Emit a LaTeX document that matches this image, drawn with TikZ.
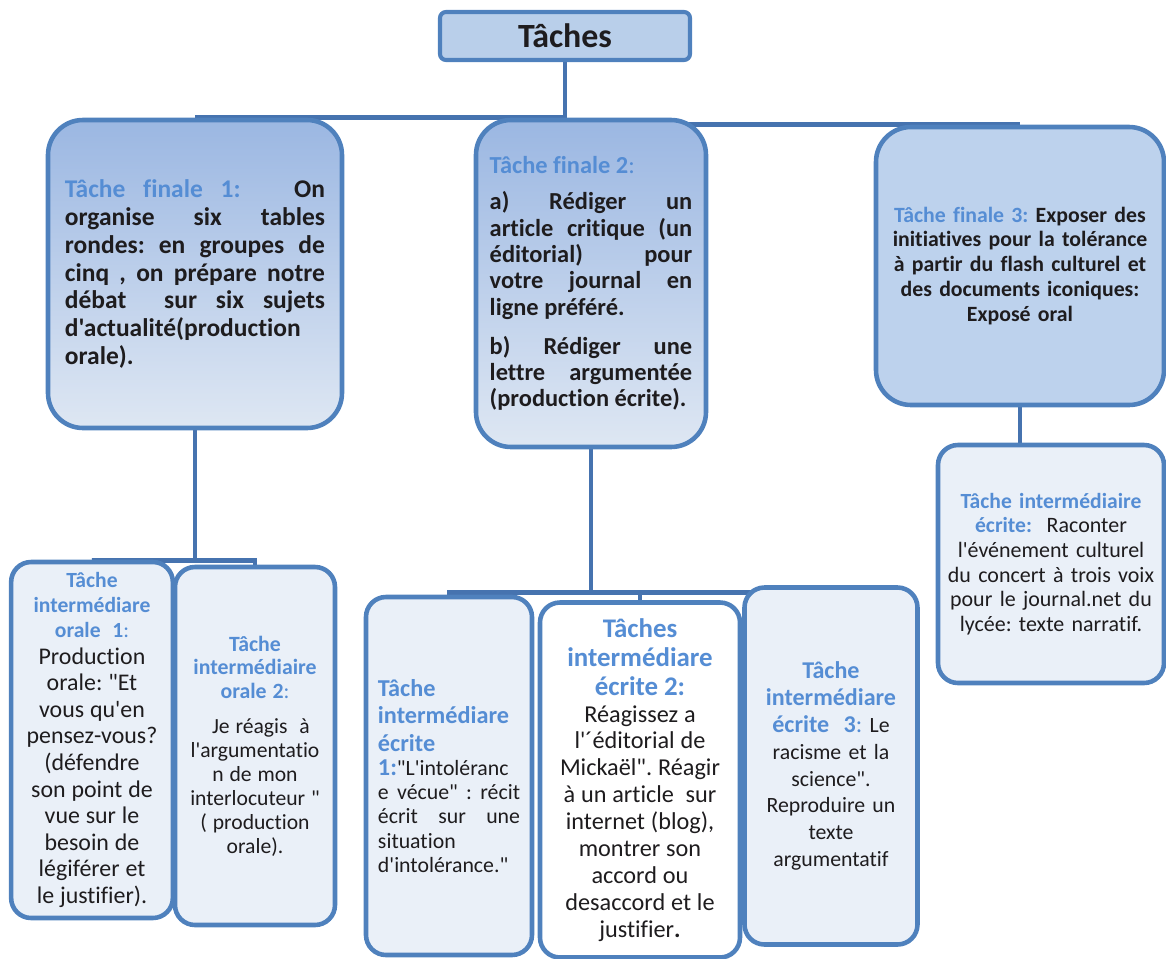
\documentclass[tikz,border=0pt]{standalone}
\usepackage{fontspec}
\setmainfont{Carlito}[Ligatures={TeXOff,NoCommon}]
\usepackage{tikz}
\usetikzlibrary{shapes.geometric, arrows, backgrounds}
\setlength{\parindent}{0pt}
\frenchspacing

\definecolor{boxline}{RGB}{79,129,189}
\definecolor{linkline}{RGB}{70,115,175}
\definecolor{titleblue}{RGB}{85,141,212}
\definecolor{rootfill}{RGB}{185,207,234}
\definecolor{tfthreefill}{RGB}{189,210,237}
\definecolor{finaltop}{RGB}{155,183,226}
\definecolor{finalbot}{RGB}{222,231,243}
\definecolor{interfill}{RGB}{234,240,248}
\definecolor{txt}{RGB}{30,28,30}

\newcommand{\ttl}[1]{{\bfseries\color{titleblue}#1}}

\tikzstyle{rootbox} = [rectangle, rounded corners=0.12cm, minimum width=5cm,
minimum height=0.96cm, text centered, draw=boxline, line width=2.3pt,
fill=rootfill, text=txt, font=\bfseries\fontsize{19.3}{23}\selectfont]
\tikzstyle{finalbox} = [rectangle, rounded corners=0.7cm, draw=boxline,
line width=2.6pt, text=txt]
\tikzstyle{gradfill} = [top color=finaltop, bottom color=finalbot]
\tikzstyle{interbox} = [rectangle, rounded corners=0.4cm, draw=boxline,
line width=2.6pt, fill=interfill, text=txt, align=center]
\tikzstyle{link} = [line width=2.6pt, draw=linkline]

\begin{document}
\begin{tikzpicture}[node distance=5cm]

\useasboundingbox (-11.3,0.72) rectangle (12.02,-18.44);

\node(top)[rootbox]{Tâches};
\node(tf2)[finalbox, gradfill, below of=top, xshift=0.52cm, yshift=0.05cm,
minimum width=4.6cm, minimum height=6.54cm, text width=4.05cm, align=justify,
font=\bfseries\fontsize{13.9}{15}\selectfont]{\ttl{Tâche finale 2}\textcolor{titleblue}{\mdseries:}\par\vspace{0.2cm}
a) Rédiger un\linebreak article critique (un\linebreak éditorial) pour\linebreak
votre journal en\linebreak ligne préféré.\par\vspace{0.25cm}
b) Rédiger une\linebreak lettre argumentée\linebreak (production écrite).};
\node(tf1)[finalbox, gradfill, left of=tf2, xshift=-2.92cm, yshift=0.19cm,
minimum width=5.88cm, minimum height=6.16cm, text width=5.2cm, align=justify,
font=\bfseries\fontsize{14.5}{15.9}\selectfont]{\ttl{Tâche finale 1:}\ \ \ On\linebreak
organise six tables\linebreak rondes: en groupes de\linebreak cinq , on prépare notre\linebreak
débat\ \ sur six sujets\linebreak d'actualité(production\linebreak orale).};
\node(tf3)[finalbox, fill=tfthreefill, right of=tf2, xshift=3.58cm, yshift=0.35cm,
minimum width=5.76cm, minimum height=5.56cm, text width=5.3cm, align=center,
font=\bfseries\fontsize{12.4}{14.2}\selectfont]{\ttl{Tâche finale 3:} Exposer des\\
initiatives pour la tolérance\\ à partir du flash culturel et\\ des documents iconiques:\\
Exposé oral};

\node(tio1)[interbox, below of=tf1, xshift=-2.06cm, yshift=-4.32cm,
minimum width=3.2cm, minimum height=7.12cm, text width=3cm]{{\fontsize{12.3}{14.2}\selectfont
\ttl{Tâche\\ intermédiare\\ orale\ \ 1}\textcolor{titleblue}{:}\par}
{\fontsize{13.6}{15.1}\selectfont Production\\ orale: "Et\\ vous qu'en\\ pensez-vous?\\
(défendre\\ son point de\\ vue sur le\\ besoin de\\ légiférer et\\ le justifier).\par}};
\node(tio2)[interbox, right of=tio1, xshift=-1.74cm, yshift=-0.12cm,
minimum width=3.2cm, minimum height=7.16cm, text width=2.9cm]{{\fontsize{12.4}{13.6}\selectfont
\ttl{Tâche\\ intermédiaire\\ orale 2}\textcolor{titleblue}{:}\par}\vspace{0.22cm}
{\fontsize{12.3}{13.6}\selectfont\ \ Je réagis\ \ à\\ l'argumentatio\\ n de mon\\
interlocuteur "\\ ( production\\ orale).\par}};

\node(tie2)[interbox, fill=white, below of=tf2, xshift=0.98cm, yshift=-4.93cm,
minimum width=4cm, minimum height=7.1cm, text width=3.6cm]{{\fontsize{15.3}{16.4}\selectfont
\ttl{Tâches\\ intermédiare\\ écrite 2:}\par}
{\fontsize{13.8}{15.3}\selectfont Réagissez a\\ l'´éditorial de\\ Mickaël". Réagir\\
à un article\ \ sur\\ internet (blog),\\ montrer son\\ accord ou\\ desaccord et le\\
justifier{\bfseries .}\par}};
\node(tie1)[interbox, left of=tie2, xshift=1.18cm, yshift=0.08cm,
minimum width=3.32cm, minimum height=7.16cm, text width=2.84cm, align=justify]{{\fontsize{13.8}{15.5}\selectfont
\ttl{Tâche\\ intermédiare\\ écrite}\par}
{\fontsize{12.4}{13.8}\selectfont{\fontsize{13.8}{15.5}\selectfont\ttl{1:}}"L'intoléranc\linebreak
e vécue" : récit\linebreak écrit sur une\linebreak situation\\ d'intolérance."\par}};
\node(tie3)[interbox, right of=tie2, xshift=-1.18cm, yshift=0.28cm,
minimum width=3.46cm, minimum height=7.14cm, text width=3.1cm,
font=\fontsize{12.4}{15.3}\selectfont]{{\fontsize{13.7}{15.3}\selectfont
\ttl{Tâche\\ intermédiare\\ écrite\ \ 3}\textcolor{titleblue}{:}} Le\\ racisme et la\\
science".\\ Reproduire un\\ texte\\ argumentatif};
\node(tiex)[interbox, below of=tf3, xshift=0.62cm, yshift=-0.96cm,
minimum width=4.52cm, minimum height=4.76cm, text width=4.2cm,
font=\fontsize{12.5}{14}\selectfont]{{\fontsize{12.3}{14}\selectfont
\ttl{Tâche intermédiaire\\ écrite:}}\ \ Raconter\\ l'événement culturel\\
du concert à trois voix\\ pour le journal.net du\\ lycée: texte narratif.};

\begin{scope}[on background layer]
\draw[link](top.south) |- (tf1.north);
\draw[link](top.south) |- (tf3.north);
\draw[link](top.south) -- (top.south |- tf2.north);
\coordinate(jora) at ([yshift=-2.6cm]tf1.south);
\draw[link](tf1.south) -- (jora) -| (tio1.north);
\draw[link](jora) -| (tio2.north);
\coordinate(jecr) at ([yshift=-2.86cm]tf2.south);
\draw[link](tf2.south) -- (jecr) -| (tie1.north);
\draw[link](jecr) -| (tie2.north);
\draw[link](jecr) -| (tie3.north);
\draw[link](tf3.south) -- (tf3.south |- tiex.north);
\end{scope}

\end{tikzpicture}
\end{document}
